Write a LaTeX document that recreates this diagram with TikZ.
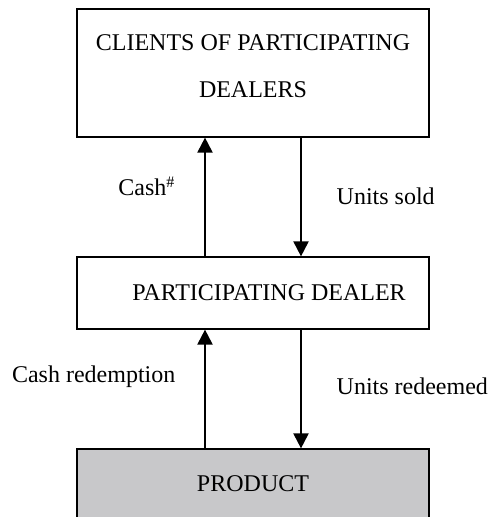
\documentclass[tikz,border=0pt]{standalone}
\usepackage{fontspec}
\setmainfont{Liberation Serif}
\usepackage{xcolor}
\usepackage{tikz}
\usetikzlibrary{arrows.meta, positioning}
\definecolor{productgray}{RGB}{200,200,202}

\begin{document}
\begin{tikzpicture}[x=0.5pt, y=-0.5pt, >={Triangle[length=7.5pt, width=7.5pt]},
        every node/.style={font=\fontsize{12}{14.4}\selectfont},
        box/.style={draw, line width=0.6pt, minimum width=176pt, align=center},
        flow/.style={->, line width=1pt}]
        \useasboundingbox (0,0) rectangle (491,517);
        \clip (0,0) rectangle (491,517);
        \node[box, minimum height=64pt, text depth=6.7pt] (clients) at (253,73) {CLIENTS OF PARTICIPATING\\[9.1pt]DEALERS};
        \node[box, minimum height=36pt] (dealer) at (253,293) {\hspace*{16pt}PARTICIPATING DEALER};
        \node[box, fill=productgray, minimum height=35pt] (product) at (253,484) {PRODUCT};
        % flows between the boxes
        \draw[flow] ([xshift=-24pt]dealer.north) -- ([xshift=-24pt]clients.south) node[pos=0.59, left=11pt] {Cash\textsuperscript{\#}};
        \draw[flow] ([xshift=24pt]clients.south) -- ([xshift=24pt]dealer.north) node[pos=0.49, right=14pt] {Units sold};
        \draw[flow] ([xshift=-24pt]product.north) -- ([xshift=-24pt]dealer.south) node[pos=0.6, left=11pt] {Cash redemption};
        \draw[flow] ([xshift=24pt]dealer.south) -- ([xshift=24pt]product.north) node[pos=0.48, right=14pt] {Units redeemed};
    \end{tikzpicture}
\end{document}
